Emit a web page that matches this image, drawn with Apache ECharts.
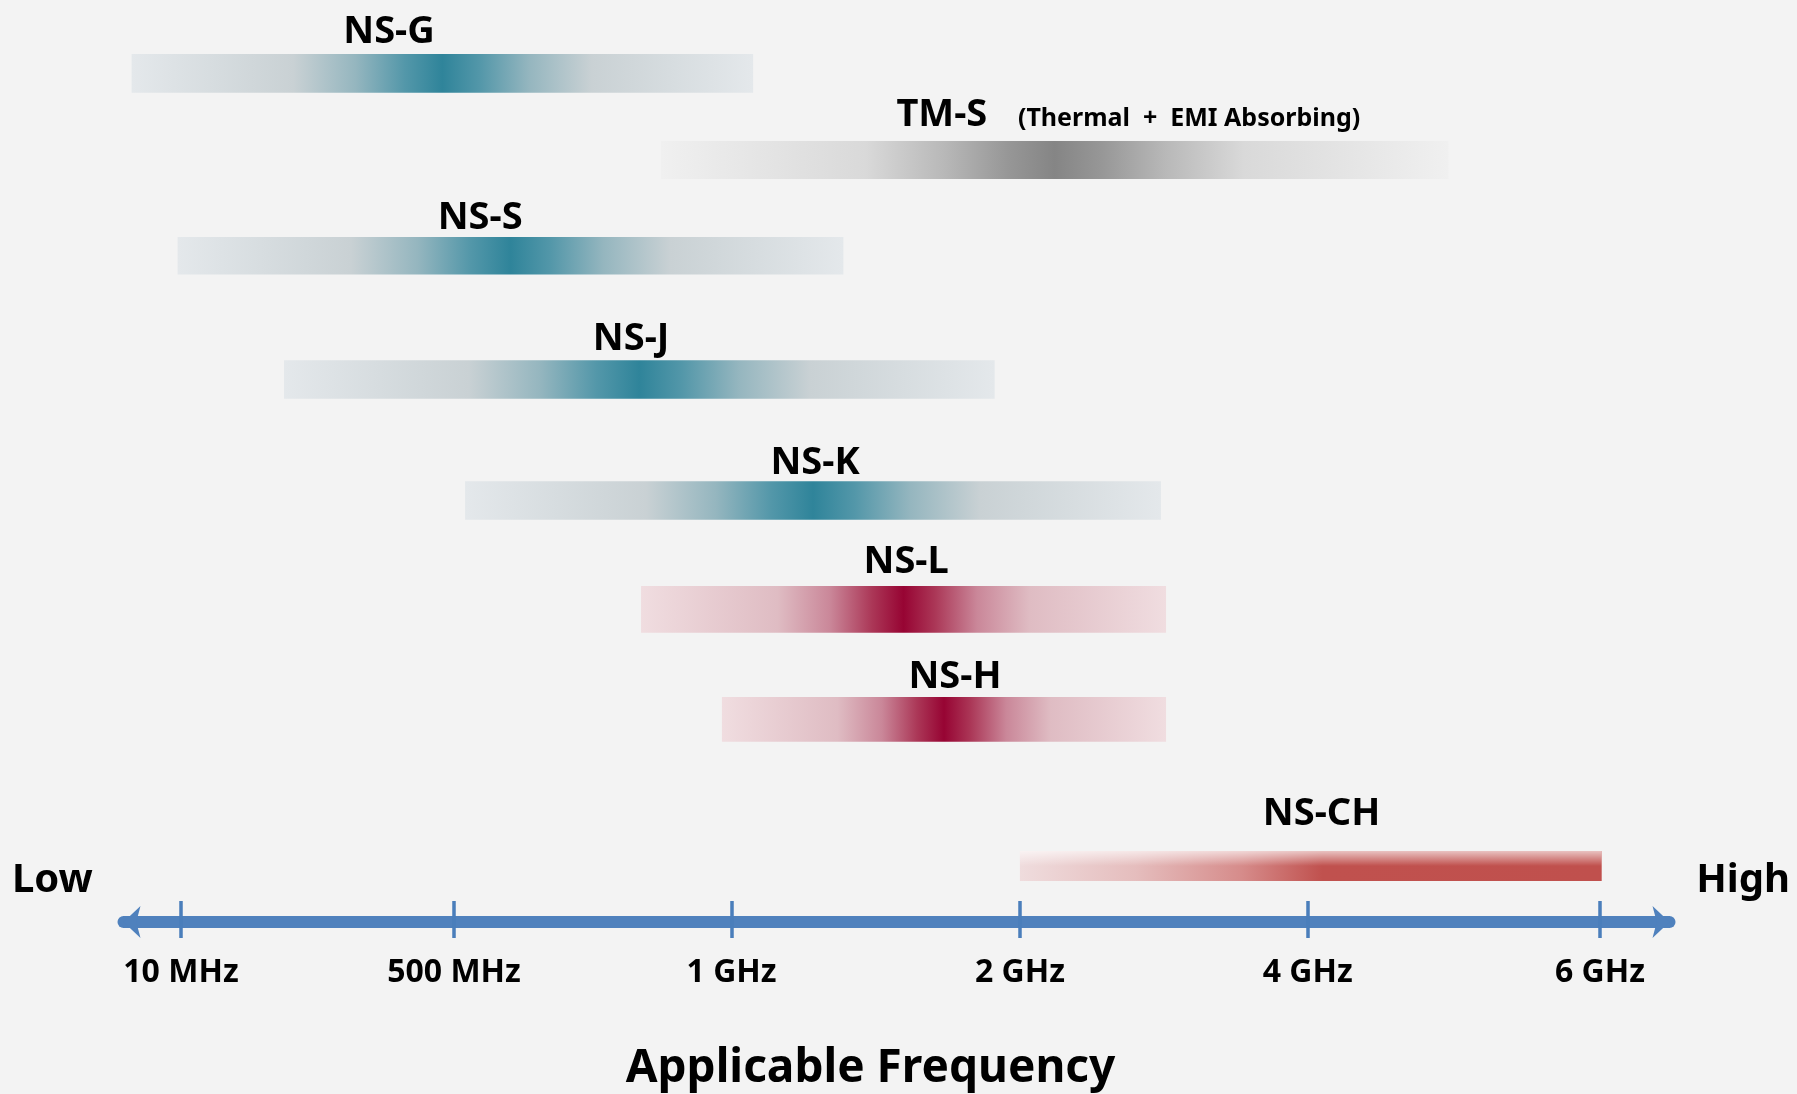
<!DOCTYPE html>
<html><head><meta charset="utf-8">
<script src="https://cdn.jsdelivr.net/npm/echarts@6/dist/echarts.min.js"></script>
<style>html,body{margin:0;padding:0;background:#f3f3f3;} #chart{width:1797px;height:1094px;}</style>
</head><body><div id="chart"></div>
<script>
// ---- data (axis units along the frequency axis) ----
const products   = ['NS-G', 'TM-S', 'NS-S', 'NS-J', 'NS-K', 'NS-L', 'NS-H', 'NS-CH'];
const notes      = ['', '(Thermal  +  EMI Absorbing)', '', '', '', '', '', ''];
const rangeStart = [-0.174, 1.691, -0.012, 0.363, 1.001, 1.621, 1.906, 2.956];
const rangeEnd   = [ 2.016, 4.466,  2.334, 2.867, 3.453, 3.471, 3.471, 5.006];
const rowLane    = [0.955, 2.082, 3.330, 4.939, 6.514, 7.931, 9.363, 11.271];
const labelAt    = [0.733, 2.681, 1.054, 1.586, 2.234, 2.555, 2.727, 4.019];
const noteAt     = [null, 2.949, null, null, null, null, null, null];
const families   = ['teal', 'gray', 'teal', 'teal', 'teal', 'red', 'red', 'ch'];
const tickLabels = ['10 MHz', '500 MHz', '1 GHz', '2 GHz', '4 GHz', '6 GHz'];
const tickPos    = [0, 0.962, 1.940, 2.956, 3.970, 5];

// ---- styles ----
const FONT = '"Noto Sans", "Open Sans", sans-serif';
const AX_MIN = -0.2026, AX_MAX = 5.2449;
const barHeight = [38.7, 38, 37.5, 38.5, 38.5, 46.7, 44.7, 30];
const labelGap  = [11.7, 15.3, 8, 11, 8, 13, 9.3, 26];   // baseline distance above bar top (px)
function sym(c1, c2, c3, c4, c5) {
  return { type: 'linear', x: 0, y: 0, x2: 1, y2: 0, colorStops: [
    { offset: 0, color: c1 }, { offset: 0.26, color: c2 }, { offset: 0.36, color: c3 },
    { offset: 0.44, color: c4 }, { offset: 0.5, color: c5 }, { offset: 0.56, color: c4 },
    { offset: 0.64, color: c3 }, { offset: 0.74, color: c2 }, { offset: 1, color: c1 }] };
}
const fills = {
  teal: sym('#e4e8eb', '#c9d1d4', '#95b6bf', '#5397a9', '#2f849a'),
  gray: sym('#f0f0f0', '#d9d9d9', '#b8b8b8', '#979797', '#858585'),
  red:  sym('#f0dde0', '#dfbcc3', '#ca8799', '#ab3757', '#970433'),
  ch: { type: 'linear', x: 0, y: 0, x2: 1, y2: 0, colorStops: [
    { offset: 0, color: '#efdcdd' }, { offset: 0.2, color: '#e5bdbd' },
    { offset: 0.38, color: '#d68c8b' }, { offset: 0.52, color: '#c0514e' },
    { offset: 1, color: '#c0504d' }] }
};
const chGloss = { type: 'linear', x: 0, y: 0, x2: 0, y2: 1, colorStops: [
  { offset: 0, color: 'rgba(255,255,255,0.65)' }, { offset: 1, color: 'rgba(255,255,255,0)' }] };

const seriesData = products.map((n, i) => [rangeStart[i], rangeEnd[i], rowLane[i], labelAt[i]]);

const chart = echarts.init(document.getElementById('chart'));
chart.setOption({
  backgroundColor: '#f3f3f3',
  animation: false,
  grid: { left: 123.5, right: 127.5, top: 0, bottom: 172, containLabel: false, outerBoundsMode: 'none' },
  xAxis: [{
    type: 'value', min: AX_MIN, max: AX_MAX, position: 'bottom',
    axisLine: { show: true, onZero: false, symbol: ['arrow', 'arrow'], symbolSize: [24, 17],
      lineStyle: { color: '#4f81bd', width: 12 } },
    axisTick: { show: true, customValues: tickPos, length: 16, lineStyle: { color: '#4a7ebb', width: 3.5 } },
    axisLabel: { show: true, customValues: tickPos, margin: 35,
      color: '#000', fontFamily: FONT, fontWeight: 'bold', fontSize: 32,
      formatter: v => { let k = 0; tickPos.forEach((p, j) => { if (Math.abs(p - v) < Math.abs(tickPos[k] - v)) k = j; }); return tickLabels[k]; } },
    splitLine: { show: false },
    name: 'Applicable Frequency', nameLocation: 'middle', nameGap: 124,
    nameTextStyle: { color: '#000', fontFamily: FONT, fontWeight: 'bold', fontSize: 46, padding: [0, 52, 0, 0] }
  }, {
    type: 'value', min: AX_MIN, max: AX_MAX, position: 'bottom', offset: 0,
    axisLine: { show: false, onZero: false },
    axisTick: { show: true, inside: true, customValues: tickPos, length: 21, lineStyle: { color: '#4a7ebb', width: 3.5 } },
    axisLabel: { show: false }, splitLine: { show: false }
  }],
  yAxis: { type: 'value', min: 0, max: 12, inverse: true, show: false },
  graphic: [
    { type: 'text', left: 12, top: 861, style: { text: 'Low', fill: '#000', font: 'bold 40px ' + FONT } },
    { type: 'text', right: 7, top: 861, style: { text: 'High', fill: '#000', font: 'bold 40px ' + FONT } }
  ],
  series: [{
    type: 'custom',
    data: seriesData,
    encode: { x: [0, 1], y: 2 },
    renderItem: (params, api) => {
      const i = params.dataIndex;
      const p0 = api.coord([api.value(0), api.value(2)]);
      const p1 = api.coord([api.value(1), api.value(2)]);
      const h = barHeight[i];
      const top = p0[1] - h / 2;
      const lx = api.coord([api.value(3), api.value(2)])[0];
      const children = [{
        type: 'rect', shape: { x: p0[0], y: top, width: p1[0] - p0[0], height: h },
        style: { fill: fills[families[i]] }
      }];
      if (families[i] === 'ch') {
        children.push({ type: 'rect', shape: { x: p0[0], y: top, width: p1[0] - p0[0], height: h * 0.5 },
          style: { fill: chGloss } });
      }
      children.push({ type: 'text', style: { text: products[i], x: lx, y: top - labelGap[i] + 8.5,
        align: 'center', verticalAlign: 'bottom', fill: '#000', font: 'bold 38px ' + FONT } });
      if (notes[i]) {
        const nx = api.coord([noteAt[i], api.value(2)])[0];
        children.push({ type: 'text', style: { text: notes[i], x: nx, y: top - labelGap[i] + 5.5,
          align: 'left', verticalAlign: 'bottom', fill: '#000', font: 'bold 25px ' + FONT } });
      }
      return { type: 'group', children };
    }
  }]
});
</script></body></html>
